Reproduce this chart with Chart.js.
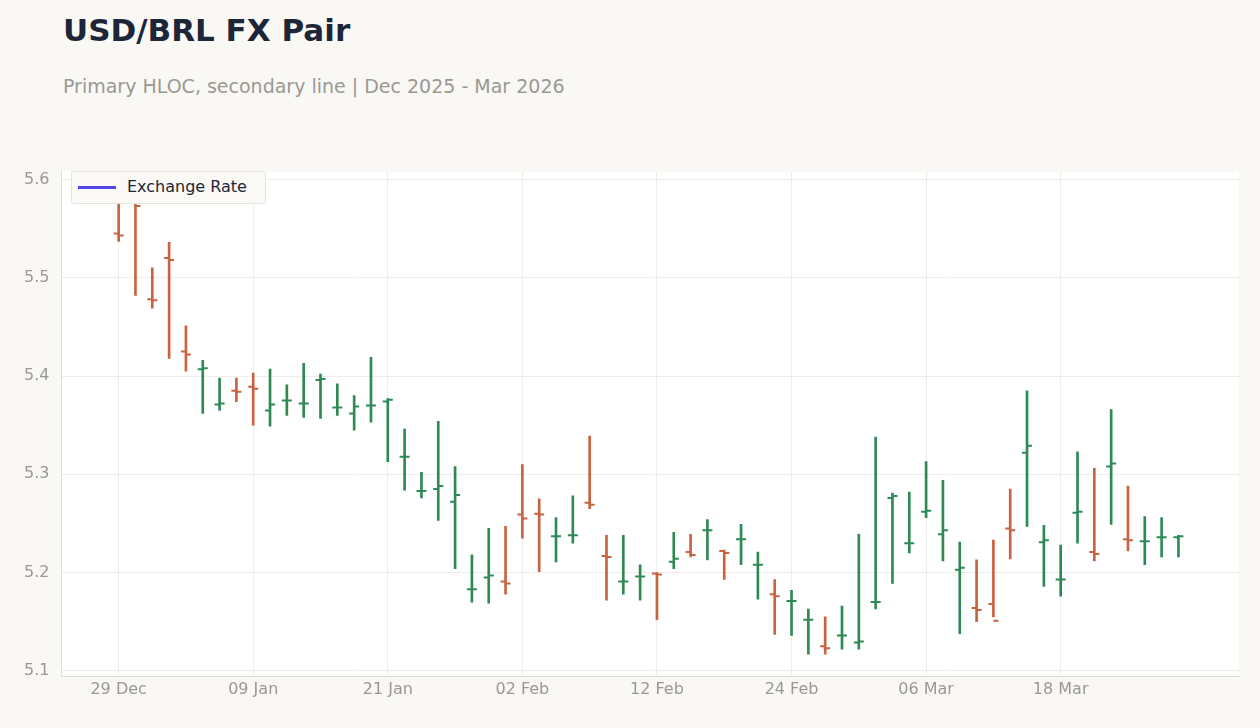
<!doctype html>
<html>
<head>
<title>USD/BRL FX Pair</title>
<script src="https://cdn.jsdelivr.net/npm/chart.js@4.4.9/dist/chart.umd.min.js"></script>
<style>
  body { margin: 0; background: #f9f8f5; font-family: "DejaVu Sans", sans-serif; }
  h1 { position: absolute; left: 63px; top: 12px; margin: 0; font-size: 31px; color: #1c2638; }
  .sub { position: absolute; left: 63px; top: 75px; font-size: 19px; color: #9a9893; }
  #wrap { position: absolute; left: 0; top: 150px; width: 1260px; height: 578px; }
  #legend { position: absolute; left: 71px; top: 171px; width: 193px; height: 31px; background: #faf9f6;
            border: 1px solid #e6e3de; border-radius: 3px; font-size: 16px; color: #1c2638; z-index: 2; }
  #legend i { position: absolute; left: 6px; top: 14px; width: 38px; height: 3px; background: #4f46e5; }
  #legend span { position: absolute; left: 55px; top: 5px; }
</style>
<script>
// x tick labels every 8 bars
const tickLabels = { 0: '29 Dec', 8: '09 Jan', 16: '21 Jan', 24: '02 Feb', 32: '12 Feb', 40: '24 Feb', 48: '06 Mar', 56: '18 Mar' };

const opens  = [5.545,5.578,5.478,5.520,5.425,5.407,5.371,5.385,5.389,5.365,5.375,5.372,5.396,5.368,5.362,5.370,5.374,5.318,5.283,5.285,5.272,5.183,5.195,5.191,5.259,5.260,5.237,5.238,5.271,5.217,5.191,5.196,5.199,5.211,5.221,5.243,5.222,5.234,5.208,5.178,5.171,5.152,5.125,5.136,5.129,5.170,5.276,5.230,5.262,5.239,5.203,5.164,5.168,5.245,5.322,5.231,5.193,5.261,5.221,5.308,5.234,5.232,5.236,5.236];
const highs  = [5.590,5.578,5.510,5.536,5.451,5.416,5.398,5.398,5.403,5.407,5.391,5.413,5.402,5.392,5.380,5.419,5.377,5.346,5.302,5.354,5.308,5.218,5.245,5.247,5.310,5.275,5.256,5.278,5.339,5.238,5.238,5.208,5.200,5.241,5.239,5.254,5.223,5.249,5.221,5.193,5.182,5.163,5.155,5.166,5.239,5.338,5.281,5.282,5.313,5.294,5.231,5.213,5.233,5.285,5.385,5.248,5.228,5.323,5.306,5.366,5.288,5.257,5.256,5.238];
const lows   = [5.537,5.482,5.469,5.418,5.405,5.362,5.365,5.374,5.350,5.349,5.360,5.358,5.357,5.360,5.345,5.353,5.313,5.284,5.276,5.253,5.204,5.170,5.169,5.178,5.235,5.201,5.211,5.230,5.265,5.172,5.178,5.172,5.152,5.204,5.216,5.213,5.193,5.208,5.173,5.137,5.136,5.117,5.117,5.122,5.122,5.163,5.189,5.220,5.256,5.212,5.138,5.150,5.155,5.214,5.247,5.186,5.176,5.230,5.212,5.249,5.222,5.208,5.216,5.216];
const closes = [5.543,5.573,5.477,5.518,5.422,5.408,5.372,5.384,5.387,5.371,5.375,5.372,5.397,5.368,5.369,5.370,5.376,5.318,5.283,5.288,5.279,5.183,5.197,5.189,5.255,5.259,5.237,5.238,5.269,5.216,5.191,5.196,5.198,5.214,5.218,5.243,5.220,5.234,5.208,5.176,5.171,5.152,5.123,5.136,5.130,5.170,5.278,5.230,5.263,5.243,5.205,5.162,5.151,5.243,5.329,5.233,5.193,5.262,5.219,5.311,5.233,5.232,5.236,5.237];

const UP = '#2e8a55', DOWN = '#c8633f';

function go() {
  const colors = opens.map((o, i) => closes[i] >= o ? UP : DOWN);

  const ocTicks = {
    id: 'ocTicks',
    beforeDraw(chart) {
      const { ctx, chartArea: a } = chart;
      ctx.save();
      ctx.fillStyle = '#ffffff';
      ctx.fillRect(a.left, a.top, a.right - a.left, a.bottom - a.top);
      ctx.restore();
    },
    afterDatasetsDraw(chart) {
      const { ctx, scales: { x, y } } = chart;
      ctx.save();
      ctx.lineWidth = 2;
      opens.forEach((o, i) => {
        const px = x.getPixelForValue(i);
        ctx.strokeStyle = colors[i];
        ctx.beginPath();
        ctx.moveTo(px - 5, y.getPixelForValue(o));
        ctx.lineTo(px, y.getPixelForValue(o));
        ctx.moveTo(px, y.getPixelForValue(closes[i]));
        ctx.lineTo(px + 5, y.getPixelForValue(closes[i]));
        ctx.stroke();
      });
      ctx.restore();
    }
  };

  new Chart(document.getElementById('chart'), {
    type: 'bar',
    data: {
      datasets: [
        {
          label: 'HL',
          data: opens.map((o, i) => ({ x: i, y: [lows[i], highs[i]] })),
          backgroundColor: colors,
          barThickness: 2,
        }
      ]
    },
    options: {
      responsive: true,
      maintainAspectRatio: false,
      animation: false,
      layout: { padding: { left: 12, right: 21, top: 12, bottom: 26 } },
      scales: {
        x: {
          type: 'linear', min: -3.4, max: 66.6, offset: false,
          afterBuildTicks: s => { s.ticks = Object.keys(tickLabels).map(v => ({ value: +v })); },
          ticks: { callback: v => tickLabels[v] || '', color: '#9a9893', font: { size: 16, family: 'DejaVu Sans' }, maxRotation: 0 },
          grid: { color: '#efedea', drawTicks: false, offset: false },
          border: { color: '#e0ddd7' },
        },
        y: {
          min: 5.094, max: 5.608,
          afterBuildTicks: s => { s.ticks = [5.1, 5.2, 5.3, 5.4, 5.5, 5.6].map(v => ({ value: v })); },
          ticks: { callback: v => v.toFixed(1), color: '#9a9893', font: { size: 16, family: 'DejaVu Sans' }, padding: 12 },
          grid: { color: '#efedea', drawTicks: false },
          border: { color: '#e0ddd7' },
        }
      },
      plugins: {
        tooltip: { enabled: false },
        legend: { display: false }
      }
    },
    plugins: [ocTicks]
  });
}

window.onload = go;
</script>
</head>
<body>
<h1>USD/BRL FX Pair</h1>
<div class="sub">Primary HLOC, secondary line | Dec 2025 - Mar 2026</div>
<div id="wrap"><canvas id="chart"></canvas></div>
<div id="legend"><i></i><span>Exchange Rate</span></div>
</body>
</html>
